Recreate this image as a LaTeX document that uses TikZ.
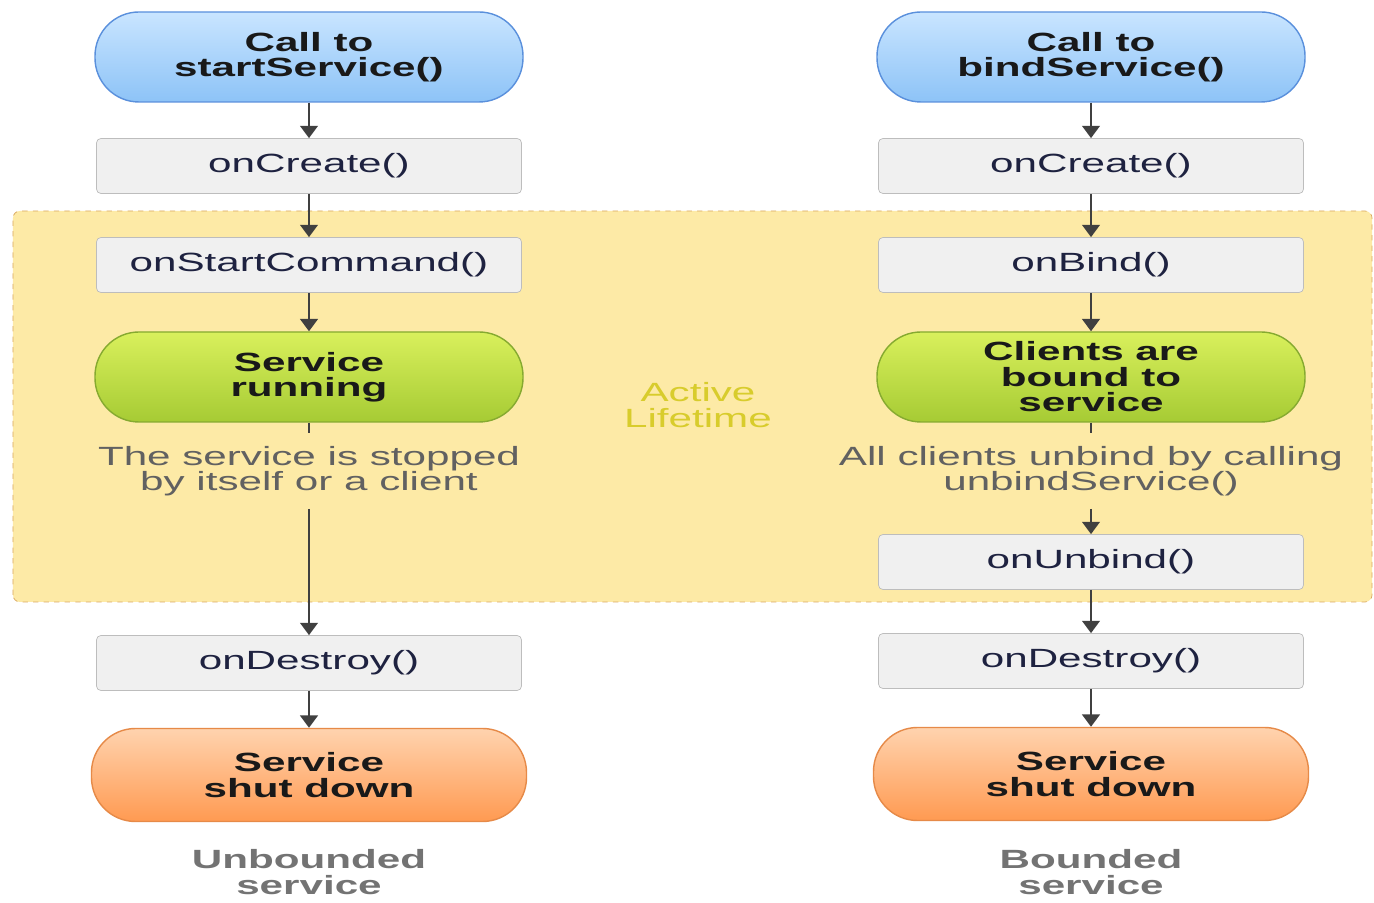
\documentclass[tikz,border=0pt]{standalone}
\usepackage{fontspec}
\setmainfont[FakeStretch=1.6]{Liberation Sans}
\usepackage{xcolor}
\usepackage{tikz}
\usetikzlibrary{arrows.meta}

\definecolor{lifeFill}{HTML}{FDEAA6}
\definecolor{lifeLine}{HTML}{D9A860}
\definecolor{lifeText}{HTML}{D8CC2C}
\definecolor{boxFill}{HTML}{F0F0F0}
\definecolor{boxLine}{HTML}{BDBDBD}
\definecolor{callTop}{HTML}{C9E5FF}
\definecolor{callBot}{HTML}{8DC3F7}
\definecolor{callLine}{HTML}{5A90DC}
\definecolor{runTop}{HTML}{D9F05C}
\definecolor{runBot}{HTML}{A6CB34}
\definecolor{runLine}{HTML}{86AA30}
\definecolor{downTop}{HTML}{FFD3AE}
\definecolor{downBot}{HTML}{FF9A52}
\definecolor{downLine}{HTML}{E68A48}
\definecolor{arrowCol}{HTML}{404040}
\definecolor{methodText}{HTML}{1E2240}

\begin{document}
\begin{tikzpicture}[
  method/.style={draw=boxLine,fill=boxFill,rounded corners=2.5pt,minimum width=8.5cm,minimum height=1.1cm,text=methodText,font=\fontsize{15}{14.5}\selectfont},
  pill/.style={rounded corners=0.88cm,minimum width=8.56cm,minimum height=1.8cm,align=center,text=black!90,line width=0.8pt,font=\bfseries\fontsize{15}{14.5}\selectfont},
  call/.style={pill,draw=callLine,top color=callTop,bottom color=callBot},
  running/.style={pill,draw=runLine,top color=runTop,bottom color=runBot},
  shutdown/.style={pill,draw=downLine,top color=downTop,bottom color=downBot,minimum width=8.7cm,minimum height=1.86cm},
  note/.style={align=center,text=black!62,inner ysep=0.25cm,font=\fontsize{15}{14.5}\selectfont},
  caption/.style={align=center,text=black!55,font=\bfseries\fontsize{15}{14.5}\selectfont},
  arr/.style={draw=arrowCol,line width=1.3pt,-{Triangle[width=10pt,length=7pt]}},
  link/.style={draw=arrowCol,line width=1.3pt}
]
\useasboundingbox (0,0) rectangle (27.48,18.04);

% active lifetime
\draw[lifeLine,dashed,fill=lifeFill,rounded corners=4pt] (0.26,6.0) rectangle (27.44,13.82);
\node[text=lifeText,align=center,font=\fontsize{15}{14.5}\selectfont] (active) at (13.96,9.94) {Active\\Lifetime};

% unbounded service
\node[call] (callStart) at (6.18,16.9) {Call to\\startService()};
\node[method] (createL) at (6.18,14.72) {onCreate()};
\node[method] (startCmd) at (6.18,12.74) {onStartCommand()};
\node[running] (running) at (6.18,10.5) {Service\\running};
\node[note] (stopNote) at (6.18,8.62) {The service is stopped\\by itself or a client};
\node[method] (destroyL) at (6.18,4.78) {onDestroy()};
\node[shutdown] (downL) at (6.18,2.54) {Service\\shut down};
\node[caption] (unboundCap) at (6.18,0.6) {Unbounded\\service};

\draw[arr] (callStart) -- (createL);
\draw[arr] (createL) -- (startCmd);
\draw[arr] (startCmd) -- (running);
\draw[link] (running) -- (stopNote);
\draw[arr] (stopNote) -- (destroyL);
\draw[arr] (destroyL) -- (downL);

% bounded service
\node[call] (callBind) at (21.82,16.9) {Call to\\bindService()};
\node[method] (createR) at (21.82,14.72) {onCreate()};
\node[method] (bindM) at (21.82,12.74) {onBind()};
\node[running] (bound) at (21.82,10.5) {Clients are\\bound to\\service};
\node[note] (unbindNote) at (21.82,8.62) {All clients unbind by calling\\unbindService()};
\node[method] (unbindM) at (21.82,6.8) {onUnbind()};
\node[method] (destroyR) at (21.82,4.82) {onDestroy()};
\node[shutdown] (downR) at (21.82,2.56) {Service\\shut down};
\node[caption] (boundCap) at (21.82,0.6) {Bounded\\service};

\draw[arr] (callBind) -- (createR);
\draw[arr] (createR) -- (bindM);
\draw[arr] (bindM) -- (bound);
\draw[link] (bound) -- (unbindNote);
\draw[arr] (unbindNote) -- (unbindM);
\draw[arr] (unbindM) -- (destroyR);
\draw[arr] (destroyR) -- (downR);
\end{tikzpicture}
\end{document}
